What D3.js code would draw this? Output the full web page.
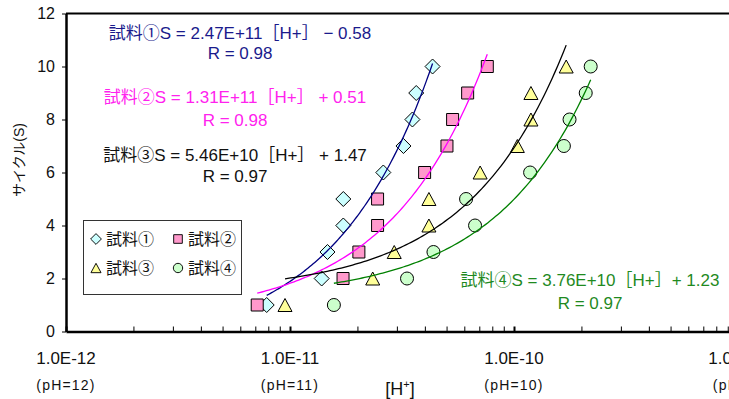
<!DOCTYPE html>
<html><head><meta charset="utf-8">
<script src="https://cdn.jsdelivr.net/npm/d3@7"></script>
<style>
html,body{margin:0;padding:0;background:#fff;overflow:hidden;}
text{font-family:"Liberation Sans","Noto Sans CJK JP",sans-serif;}
</style></head>
<body>
<svg id="c" width="729" height="399"></svg>
<script>
// ---- data ----
const seriesNames = ["試料①", "試料②", "試料③", "試料④"];
const cycles = [1, 2, 3, 4, 5, 6, 7, 8, 9, 10];
const h1 = [7.87e-12, 1.385e-11, 1.47e-11, 1.73e-11, 1.73e-11, 2.61e-11, 3.21e-11, 3.52e-11, 3.66e-11, 4.33e-11];
const h2 = [7.14e-12, 1.725e-11, 2.03e-11, 2.46e-11, 2.46e-11, 3.99e-11, 5.02e-11, 5.32e-11, 6.21e-11, 7.6e-11];
const h3 = [9.5e-12, 2.34e-11, 2.92e-11, 4.17e-11, 4.17e-11, 7.06e-11, 1.035e-10, 1.19e-10, 1.19e-10, 1.71e-10];
const h4 = [1.57e-11, 3.33e-11, 4.37e-11, 6.7e-11, 6.11e-11, 1.18e-10, 1.67e-10, 1.77e-10, 2.09e-10, 2.2e-10];
const slopes = [2.47e11, 1.31e11, 5.46e10, 3.76e10];
const intercepts = [-0.58, 0.51, 1.47, 1.23];
const eqLabels = ["試料①S = 2.47E+11［H+］ − 0.58", "試料②S = 1.31E+11［H+］ + 0.51", "試料③S = 5.46E+10［H+］ + 1.47", "試料④S = 3.76E+10［H+］+ 1.23"];
const rLabels = ["R = 0.98", "R = 0.98", "R = 0.97", "R = 0.97"];
const xTickValues = [1e-12, 1e-11, 1e-10, 1e-9];
const xTickLabels = ["1.0E-12", "1.0E-11", "1.0E-10", "1.0E-09"];
const pHLabels = ["(pH=12)", "(pH=11)", "(pH=10)", "(pH=9)"];
const yTicks = [0, 2, 4, 6, 8, 10, 12];

// ---- styles ----
const fills = ["#CCFFFF", "#FF99CC", "#FFFF99", "#CCFFCC"];
const lineColors = ["#000080", "#FF00FF", "#000000", "#008000"];
const textColors = ["#1a1a8c", "#FF22EE", "#111111", "#1f8a1f"];
const shapes = ["diamond", "square", "triangle", "circle"];

const svg = d3.select("#c");
const x = d3.scaleLog().domain([1e-12, 1e-9]).range([66, 738]);
const y = d3.scaleLinear().domain([0, 12]).range([331.5, 13.5]);

function shapePath(s) {
  if (s === "diamond") return "M0,-7.5L7.5,0L0,7.5L-7.5,0Z";
  if (s === "square") return "M-6,-6H6V6H-6Z";
  if (s === "triangle") return "M0,-6.5L7,6.5L-7,6.5Z";
  return d3.arc()({innerRadius: 0, outerRadius: 6.5, startAngle: 0, endAngle: 2 * Math.PI});
}

// frame
const g = svg.append("g");
g.append("line").attr("x1", x(1e-12)).attr("x2", 740).attr("y1", y(12)).attr("y2", y(12)).attr("stroke", "#000").attr("stroke-width", 2);

// x axis (ticks inside)
const xAxis = d3.axisBottom(x).tickSizeInner(-5).tickSizeOuter(0).tickFormat("");
const xg = g.append("g").attr("transform", `translate(0,${y(0)})`).call(xAxis);
xg.select(".domain").attr("stroke-width", 2.5);
xg.selectAll(".tick line").attr("stroke-width", 1);
xg.selectAll(".tick").filter(d => xTickValues.some(v => Math.abs(Math.log10(v) - Math.log10(d)) < 1e-6)).select("line").attr("stroke-width", 2);

// y axis
const yAxis = d3.axisLeft(y).tickValues(yTicks).tickSizeInner(4).tickSizeOuter(0).tickFormat(d3.format("d"));
const yg = g.append("g").attr("transform", `translate(${x(1e-12)},0)`).call(yAxis);
yg.select(".domain").attr("stroke-width", 2.5);
yg.selectAll(".tick text").attr("font-size", 16).attr("font-family", "Liberation Sans").attr("x", -11).attr("fill", "#111");

// x tick labels
xTickValues.forEach((v, i) => {
  svg.append("text").attr("x", x(v)).attr("y", 364).attr("text-anchor", "middle").attr("font-size", 17).attr("fill", "#111").text(xTickLabels[i]);
  svg.append("text").attr("x", x(v)).attr("y", 390).attr("text-anchor", "middle").attr("font-size", 14).attr("letter-spacing", 1.2).attr("fill", "#111").text(pHLabels[i]);
});

// axis titles
const ht = svg.append("text").attr("x", 400).attr("y", 395).attr("text-anchor", "middle").attr("font-size", 18).attr("fill", "#111");
ht.append("tspan").text("[H");
ht.append("tspan").attr("font-size", 11).attr("dy", -7).text("+");
ht.append("tspan").attr("dy", 7).text("]");
svg.append("text").attr("transform", "translate(24,160) rotate(-90)").attr("text-anchor", "middle").attr("font-size", 14).attr("fill", "#111").text("サイクル(S)");

// markers
const hs = [h1, h2, h3, h4];
hs.forEach((hArr, i) => {
  svg.append("g").selectAll("path").data(hArr.map((h, j) => [h, cycles[j]])).join("path")
    .attr("d", shapePath(shapes[i]))
    .attr("transform", d => `translate(${x(d[0])},${y(d[1])})`)
    .attr("fill", fills[i]).attr("stroke", "#000").attr("stroke-width", 1);
});

// trend lines (linear fits drawn on log x)
hs.forEach((hArr, i) => {
  const lo = d3.min(hArr), hi = d3.max(hArr);
  const pts = d3.range(0, 101).map(k => {
    const h = Math.pow(10, Math.log10(lo) + (Math.log10(hi) - Math.log10(lo)) * k / 100);
    return [h, slopes[i] * h + intercepts[i]];
  });
  svg.append("path").attr("d", d3.line().x(d => x(d[0])).y(d => y(d[1]))(pts))
    .attr("fill", "none").attr("stroke", lineColors[i]).attr("stroke-width", 1.3);
});

// equation labels
const eqPos = [[240, 39, 59], [235, 103, 126], [235, 161, 182], [590, 286, 309]];
eqLabels.forEach((t, i) => {
  svg.append("text").attr("x", eqPos[i][0]).attr("y", eqPos[i][1]).attr("text-anchor", "middle").attr("font-size", 17).attr("fill", textColors[i]).text(t);
  svg.append("text").attr("x", eqPos[i][0]).attr("y", eqPos[i][2]).attr("text-anchor", "middle").attr("font-size", 17).attr("fill", textColors[i]).text(rLabels[i]);
});

// legend
const lg = svg.append("g");
lg.append("rect").attr("x", 83.5).attr("y", 220.5).attr("width", 158).attr("height", 74).attr("fill", "#fff").attr("stroke", "#333").attr("stroke-width", 1);
const legPos = [[96, 239], [178, 239], [96, 268], [178, 268]];
seriesNames.forEach((n, i) => {
  lg.append("path").attr("d", shapePath(shapes[i])).attr("transform", `translate(${legPos[i][0]},${legPos[i][1]}) scale(0.72)`)
    .attr("fill", fills[i]).attr("stroke", "#000").attr("stroke-width", 1.3);
  lg.append("text").attr("x", legPos[i][0] + 10).attr("y", legPos[i][1] + 6).attr("font-size", 16).attr("fill", "#111").text(n);
});
</script>
</body></html>
